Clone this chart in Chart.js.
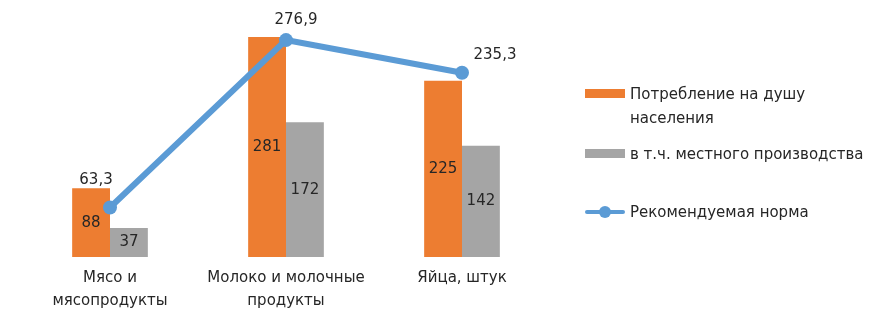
<!DOCTYPE html>
<html>
<head>
<meta charset="utf-8">
<script src="https://cdn.jsdelivr.net/npm/chart.js@4.4.0/dist/chart.umd.min.js"></script>
<style>
  html, body { margin: 0; padding: 0; background: #fff; }
  #wrap { position: relative; width: 887px; height: 329px; }
  #legend { position: absolute; left: 582px; top: 82px; font-family: "DejaVu Sans", sans-serif; font-size: 15px; color: #262626; }
  .item { position: absolute; left: 0; width: 305px; }
  .item span.txt { position: absolute; left: 48px; top: 0; line-height: 24px; width: 260px; white-space: nowrap; }
  .sw { position: absolute; left: 3px; width: 40px; height: 9px; }
</style>
</head>
<body>
<div id="wrap">
  <canvas id="chart" width="887" height="329"></canvas>
  <div id="legend"></div>
</div>
<script>
const categories = [['Мясо и', 'мясопродукты'], ['Молоко и молочные', 'продукты'], ['Яйца, штук']];
const consumption = [88, 281, 225];
const localProduction = [37, 172, 142];
const recommended = [63.3, 276.9, 235.3];
const seriesNames = ['Потребление на душу населения', 'в т.ч. местного производства', 'Рекомендуемая норма'];

const orange = '#ED7D31';
const gray = '#A5A5A5';
const blue = '#5B9BD5';
const fontFamily = '"DejaVu Sans", sans-serif';

// value labels, drawn by hand since there is no datalabels plugin
const valueLabels = {
    id: 'valueLabels',
    afterDatasetsDraw(chart) {
        const ctx = chart.ctx;
        ctx.save();
        ctx.font = '15px ' + fontFamily;
        ctx.fillStyle = '#262626';
        ctx.textAlign = 'center';
        ctx.textBaseline = 'middle';
        [0, 1].forEach(di => {
            chart.getDatasetMeta(di).data.forEach((bar, i) => {
                const v = chart.data.datasets[di].data[i];
                ctx.fillText(String(v), bar.x, (bar.y + bar.base) / 2);
            });
        });
        const offs = [[-14, -27], [10, -20], [33, -18]];
        chart.getDatasetMeta(2).data.forEach((pt, i) => {
            const v = chart.data.datasets[2].data[i];
            ctx.fillText(String(v).replace('.', ','), pt.x + offs[i][0], pt.y + offs[i][1]);
        });
        ctx.restore();
    }
};

const chart = new Chart(document.getElementById('chart'), {
    type: 'bar',
    data: {
        labels: categories,
        datasets: [
            {
                label: seriesNames[0],
                data: consumption,
                backgroundColor: orange,
                order: 2,
                barPercentage: 1,
                categoryPercentage: 0.43
            },
            {
                label: seriesNames[1],
                data: localProduction,
                backgroundColor: gray,
                order: 2,
                barPercentage: 1,
                categoryPercentage: 0.43
            },
            {
                type: 'line',
                label: seriesNames[2],
                data: recommended,
                borderColor: blue,
                backgroundColor: blue,
                borderWidth: 6,
                pointRadius: 7,
                pointBorderWidth: 0,
                order: 1,
                tension: 0
            }
        ]
    },
    options: {
        responsive: false,
        animation: false,
        layout: { padding: { left: 22, right: 337, top: 22, bottom: 6 } },
        plugins: {
            legend: { display: false },
            tooltip: { enabled: false }
        },
        scales: {
            x: {
                grid: { display: false, drawTicks: false },
                border: { display: false },
                ticks: {
                    color: '#262626',
                    padding: 10,
                    maxRotation: 0,
                    autoSkip: false,
                    font: { family: fontFamily, size: 15, lineHeight: 1.53 }
                }
            },
            y: {
                display: false,
                min: 0,
                max: 300
            }
        }
    },
    plugins: [valueLabels]
});

// legend on the right
const legend = document.getElementById('legend');
const items = [
    { text: seriesNames[0], color: orange, top: 0, kind: 'box' },
    { text: seriesNames[1], color: gray, top: 60, kind: 'box' },
    { text: seriesNames[2], color: blue, top: 118, kind: 'line' }
];
items.forEach(it => {
    const d = document.createElement('div');
    d.className = 'item';
    d.style.top = it.top + 'px';
    let sw;
    if (it.kind === 'box') {
        sw = `<div class="sw" style="top:7px;background:${it.color}"></div>`;
    } else {
        sw = `<div class="sw" style="top:10px;height:4px;background:${it.color};border-radius:2px"></div>
              <div style="position:absolute;left:17px;top:6px;width:12px;height:12px;border-radius:6px;background:${it.color}"></div>`;
    }
    const txt = it.text === seriesNames[0] ? 'Потребление на душу<br>населения' : it.text;
    d.innerHTML = sw + `<span class="txt">${txt}</span>`;
    legend.appendChild(d);
});
</script>
</body>
</html>
